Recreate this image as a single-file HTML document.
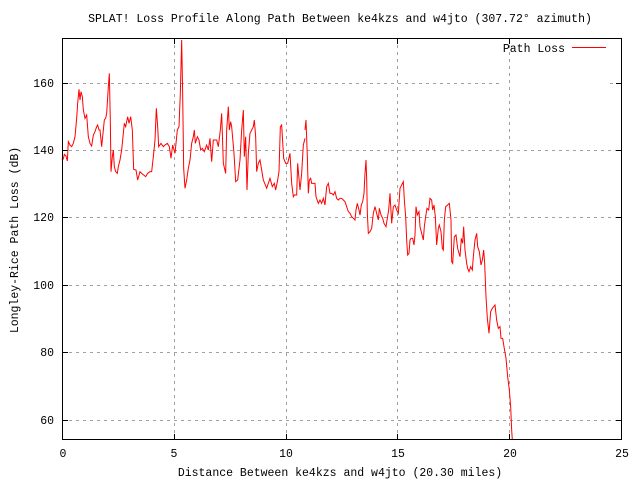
<!DOCTYPE html>
<html><head><meta charset="utf-8"><style>
body{margin:0;background:#fff}
svg{display:block}
text{font-family:"Liberation Mono","DejaVu Sans Mono",monospace;font-size:11.5px;fill:#000}
</style></head><body>
<svg width="640" height="480" xmlns="http://www.w3.org/2000/svg">
<rect width="640" height="480" fill="#fff"/>
<g stroke="#a0a0a0" stroke-width="1" stroke-dasharray="3,4">
<line x1="62" y1="420.5" x2="622" y2="420.5"/>
<line x1="62" y1="352.5" x2="622" y2="352.5"/>
<line x1="62" y1="285.5" x2="622" y2="285.5"/>
<line x1="62" y1="217.5" x2="622" y2="217.5"/>
<line x1="62" y1="150.5" x2="622" y2="150.5"/>
<line x1="62" y1="83.5" x2="500" y2="83.5"/>
<line x1="174.5" y1="38" x2="174.5" y2="440"/>
<line x1="286.5" y1="38" x2="286.5" y2="440"/>
<line x1="397.5" y1="38" x2="397.5" y2="440"/>
<line x1="509.5" y1="38" x2="509.5" y2="440"/>
<line x1="610" y1="83.5" x2="622" y2="83.5"/>
</g>
<g stroke="#000" stroke-width="1">
<line x1="62" y1="420.5" x2="68" y2="420.5"/><line x1="616" y1="420.5" x2="622" y2="420.5"/>
<line x1="62" y1="352.5" x2="68" y2="352.5"/><line x1="616" y1="352.5" x2="622" y2="352.5"/>
<line x1="62" y1="285.5" x2="68" y2="285.5"/><line x1="616" y1="285.5" x2="622" y2="285.5"/>
<line x1="62" y1="217.5" x2="68" y2="217.5"/><line x1="616" y1="217.5" x2="622" y2="217.5"/>
<line x1="62" y1="150.5" x2="68" y2="150.5"/><line x1="616" y1="150.5" x2="622" y2="150.5"/>
<line x1="62" y1="83.5" x2="68" y2="83.5"/><line x1="616" y1="83.5" x2="622" y2="83.5"/>
<line x1="174.5" y1="434" x2="174.5" y2="440"/><line x1="174.5" y1="38" x2="174.5" y2="44"/>
<line x1="286.5" y1="434" x2="286.5" y2="440"/><line x1="286.5" y1="38" x2="286.5" y2="44"/>
<line x1="397.5" y1="434" x2="397.5" y2="440"/><line x1="397.5" y1="38" x2="397.5" y2="44"/>
<line x1="509.5" y1="434" x2="509.5" y2="440"/><line x1="509.5" y1="38" x2="509.5" y2="44"/>
</g>
<g fill="none" stroke="#ff0000" stroke-width="1">
<polyline transform="translate(55,30) scale(0.33333)" vector-effect="non-scaling-stroke" points="20,387 25,387 28,373 33,378 37,393 40,335 45,345 50,350 55,340 60,320 65,265 68,220 72,178 75,210 78,185 82,200 85,240 90,265 95,255 100,320 105,340 110,348 115,315 120,305 125,290 128,285 132,300 135,300 140,350 143,320 148,270 152,265 155,250 160,170 163,130 166,275 168,425 172,380 175,360 178,410 182,425 187,430 190,410 195,390 200,360 205,310 208,280 212,290 218,260 222,280 227,260 232,300 236,418 243,420 248,450 255,425 260,430 266,435 272,440 278,430 285,425 290,425 295,380 300,330 304,235 308,290 311,350 318,340 325,350 330,345 337,340 343,350 348,385 353,345 360,370 367,300 372,290 376,190 380,30 383,190 386,415 390,475 395,450 400,415 405,390 410,340 415,320 418,300 421,340 427,320 432,330 437,360 442,355 448,365 455,345 460,360 465,325 470,395 475,330 485,330 490,350 496,300 500,250 505,400 512,430 515,300 520,230 523,300 527,275 530,290 537,370 542,455 548,450 555,390 560,300 565,240 568,380 572,320 576,480 580,370 585,310 590,300 595,290 598,270 602,320 605,425 610,400 615,390 620,420 625,450 635,475 640,460 645,445 652,470 658,460 662,480 668,450 672,425 676,290 680,285 686,385 692,400 698,400 705,370 710,460 715,500 718,495 725,495 728,400 735,480 740,430 745,345 750,325"/>
<polyline transform="translate(280,120) scale(0.33333)" vector-effect="non-scaling-stroke" points="75,30 78,0 82,110 85,220 88,180 92,175 95,190 100,190 105,190 108,230 115,250 120,240 125,250 130,235 135,255 140,200 145,190 150,220 155,220 160,225 165,215 170,235 175,240 180,235 185,235 190,240 195,245 200,260 205,275 210,280 215,290 220,295 225,300 228,270 232,250 237,270 240,285 244,255 248,245 252,220 255,160 258,120 260,175 262,280 265,340 270,335 275,325 280,280 285,260 290,280 295,300 298,265 303,285 308,295 312,310 318,320 322,295 326,270 330,220 335,310 340,260 345,255 350,270 355,280 360,205 365,195 370,185 373,240 377,290 380,360 383,405 387,400 390,360 393,355 398,355 402,375 405,345 408,260 412,285 417,275 420,320 425,340 430,360 433,320 437,290 441,265 446,270 450,235 455,240 458,270 462,255 466,290 470,375 475,325 478,315 483,335 487,385 490,390 493,300 497,260 503,255 508,250 513,300 515,425 518,430 523,350 528,345 533,385 537,400 540,410 544,355 548,370 551,320 555,390 560,430 563,445 567,455 572,440 577,450 580,410 585,360 590,340 593,380 598,395 603,435 607,420 611,390 614,430 618,530 622,595 627,640 632,575 637,565 645,555 650,600 655,625 660,620 663,655 668,655 672,680 678,715 683,770 688,810 692,860 695,930 697,960"/>
</g>
<rect x="572" y="47" width="34" height="1" fill="#ff0000"/>
<rect x="62.5" y="38.5" width="559" height="401" fill="none" stroke="#000" stroke-width="1"/>
<text x="340" y="22" text-anchor="middle">SPLAT! Loss Profile Along Path Between ke4kzs and w4jto (307.72° azimuth)</text>
<text x="565" y="52" text-anchor="end">Path Loss</text>
<g text-anchor="end">
<text x="54" y="424">60</text><text x="54" y="356">80</text><text x="54" y="289">100</text>
<text x="54" y="221">120</text><text x="54" y="154">140</text><text x="54" y="87">160</text>
</g>
<g text-anchor="middle">
<text x="63" y="457">0</text><text x="174" y="457">5</text><text x="286" y="457">10</text>
<text x="398" y="457">15</text><text x="510" y="457">20</text><text x="622" y="457">25</text>
<text x="340" y="476">Distance Between ke4kzs and w4jto (20.30 miles)</text>
<text transform="translate(18,240) rotate(-90)">Longley-Rice Path Loss (dB)</text>
</g>
</svg>
</body></html>
